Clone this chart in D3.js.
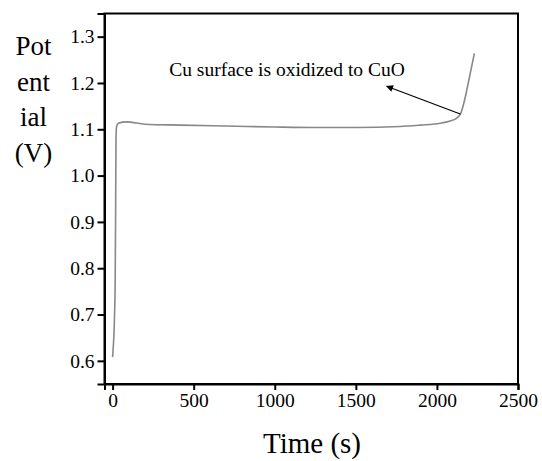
<!DOCTYPE html>
<html>
<head>
<meta charset="utf-8">
<script src="https://cdn.jsdelivr.net/npm/d3@7"></script>
<style>
  body { margin: 0; background: #fff; }
  svg text { font-family: 'Liberation Serif', 'Times New Roman', Times, serif !important; fill: #000; }
</style>
</head>
<body>
<div id="chart"></div>
<script>
// data
var timeS = [0, 4, 8, 12, 16, 19, 21, 24, 35, 86, 200, 415, 700, 1000, 1250, 1500, 1773, 1897, 2020, 2082, 2113, 2144, 2165, 2185, 2208, 2231];
var potentialV = [0.608, 0.63, 0.655, 0.70, 0.775, 0.95, 1.08, 1.105, 1.113, 1.116, 1.111, 1.109, 1.107, 1.105, 1.104, 1.104, 1.106, 1.109, 1.113, 1.118, 1.122, 1.132, 1.155, 1.186, 1.225, 1.264];
var xTicks = [0, 500, 1000, 1500, 2000, 2500];
var yTicks = [0.6, 0.7, 0.8, 0.9, 1.0, 1.1, 1.2, 1.3];
var yLabelLines = ["Pot", "ent", "ial", "(V)"];
var note = "Cu surface is oxidized to CuO";

var width = 542, height = 461;
var margin = {top: 13.5, right: 24, bottom: 77, left: 104.5};
var w = width - margin.left - margin.right;
var h = height - margin.top - margin.bottom;

var svg = d3.select("#chart").append("svg")
    .attr("width", width)
    .attr("height", height);

var g = svg.append("g")
    .attr("transform", "translate(" + margin.left + "," + margin.top + ")");

var x = d3.scaleLinear().domain([-50, 2500]).range([0, w]);
var y = d3.scaleLinear().domain([0.55, 1.35]).range([h, 0]);

// frame
g.append("rect")
    .attr("x", 0).attr("y", 0)
    .attr("width", w).attr("height", h)
    .attr("fill", "none")
    .attr("stroke", "#000")
    .attr("stroke-width", 2);

var xAxis = g.append("g")
    .attr("transform", "translate(0," + h + ")")
    .call(d3.axisBottom(x).tickValues(xTicks).tickFormat(d3.format("d")).tickSize(6).tickPadding(3));

var yAxis = g.append("g")
    .call(d3.axisLeft(y).tickValues(yTicks).tickFormat(d3.format(".1f")).tickSize(7).tickPadding(3));

[xAxis, yAxis].forEach(function(a) {
    a.attr("font-family", null).attr("font-size", null);
    a.select(".domain").attr("stroke-width", 2);
    a.selectAll(".tick line").attr("stroke-width", 2);
    a.selectAll(".tick text").style("font-size", "19.5px");
});

// curve
var line = d3.line()
    .x(function(d, i) { return x(timeS[i]); })
    .y(function(d) { return y(d); })
    .curve(d3.curveMonotoneX);

g.append("path")
    .datum(potentialV)
    .attr("d", line)
    .attr("fill", "none")
    .attr("stroke", "#888")
    .attr("stroke-width", 1.6);

// annotation
svg.append("defs").append("marker")
    .attr("id", "arrow")
    .attr("viewBox", "0 0 10 10")
    .attr("refX", 9).attr("refY", 5)
    .attr("markerWidth", 9).attr("markerHeight", 7)
    .attr("markerUnits", "userSpaceOnUse")
    .attr("orient", "auto")
    .append("path")
    .attr("d", "M0,0L10,5L0,10z")
    .attr("fill", "#000");

g.append("line")
    .attr("x1", x(2144)).attr("y1", y(1.133))
    .attr("x2", x(1690)).attr("y2", y(1.193))
    .attr("stroke", "#000")
    .attr("stroke-width", 1.2)
    .attr("marker-end", "url(#arrow)");

g.append("text")
    .attr("x", 287 - margin.left)
    .attr("y", 76 - margin.top)
    .attr("text-anchor", "middle")
    .style("font-size", "19.5px")
    .text(note);

// axis titles
svg.append("text")
    .attr("x", 312)
    .attr("y", 453)
    .attr("text-anchor", "middle")
    .style("font-size", "29px")
    .text("Time (s)");

svg.selectAll(".ylab")
    .data(yLabelLines)
    .enter().append("text")
    .attr("class", "ylab")
    .attr("x", 33.5)
    .attr("y", function(d, i) { return 55 + i * 35.5; })
    .attr("text-anchor", "middle")
    .style("font-size", "27px")
    .text(function(d) { return d; });
</script>
</body>
</html>
